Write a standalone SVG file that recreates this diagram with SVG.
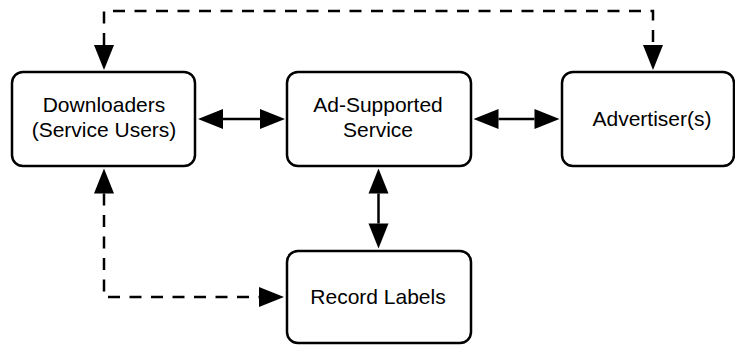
<svg xmlns="http://www.w3.org/2000/svg" width="735" height="345" viewBox="0 0 735 345">
  <style>
    .node rect { fill: #ffffff; stroke: #000000; stroke-width: 2.5; }
    .node text { font-family: "Liberation Sans", Arial, Helvetica, sans-serif; font-size: 21px; fill: #000000; text-anchor: middle; }
    .link { fill: none; stroke: #000000; stroke-width: 2.5; marker-start: url(#head); marker-end: url(#head); }
    .dashed { stroke-dasharray: 12 9.5; }
  </style>
  <defs>
    <!-- filled triangular arrowhead; its base sits on the path end, the tip points outward -->
    <marker id="head" markerUnits="userSpaceOnUse" markerWidth="26" markerHeight="20" viewBox="0 0 26 20" refX="0" refY="10" orient="auto-start-reverse" overflow="visible">
      <path d="M0,0 L25,10 L0,20 Z" fill="#000000"/>
    </marker>
  </defs>
  <rect width="735" height="345" fill="#ffffff"/>

  <g id="connectors">
    <!-- Downloaders <-> Advertiser(s), over the top -->
    <path class="link dashed" d="M104,45 V11 H653 V45"/>
    <!-- Downloaders <-> Record Labels, round the bottom left -->
    <path class="link dashed" d="M104,193.5 V297 H259"/>
    <!-- Downloaders <-> Ad-Supported Service -->
    <path class="link" d="M223,119 H260"/>
    <!-- Ad-Supported Service <-> Advertiser(s) -->
    <path class="link" d="M498.5,119 H534.5"/>
    <!-- Ad-Supported Service <-> Record Labels -->
    <path class="link" d="M378.5,193.5 V223.5"/>
  </g>

  <g id="downloaders" class="node">
    <rect x="12" y="72" width="183" height="94" rx="11"/>
    <text x="104" y="112">Downloaders</text>
    <text x="104" y="136.5">(Service Users)</text>
  </g>

  <g id="ad-supported-service" class="node">
    <rect x="287" y="72" width="184" height="94" rx="11"/>
    <text x="378" y="112">Ad-Supported</text>
    <text x="378" y="136.5">Service</text>
  </g>

  <g id="advertisers" class="node">
    <rect x="562" y="72" width="172" height="94" rx="11"/>
    <text x="652" y="125.5">Advertiser(s)</text>
  </g>

  <g id="record-labels" class="node">
    <rect x="287" y="251" width="184" height="92" rx="11"/>
    <text x="378" y="304">Record Labels</text>
  </g>
</svg>
